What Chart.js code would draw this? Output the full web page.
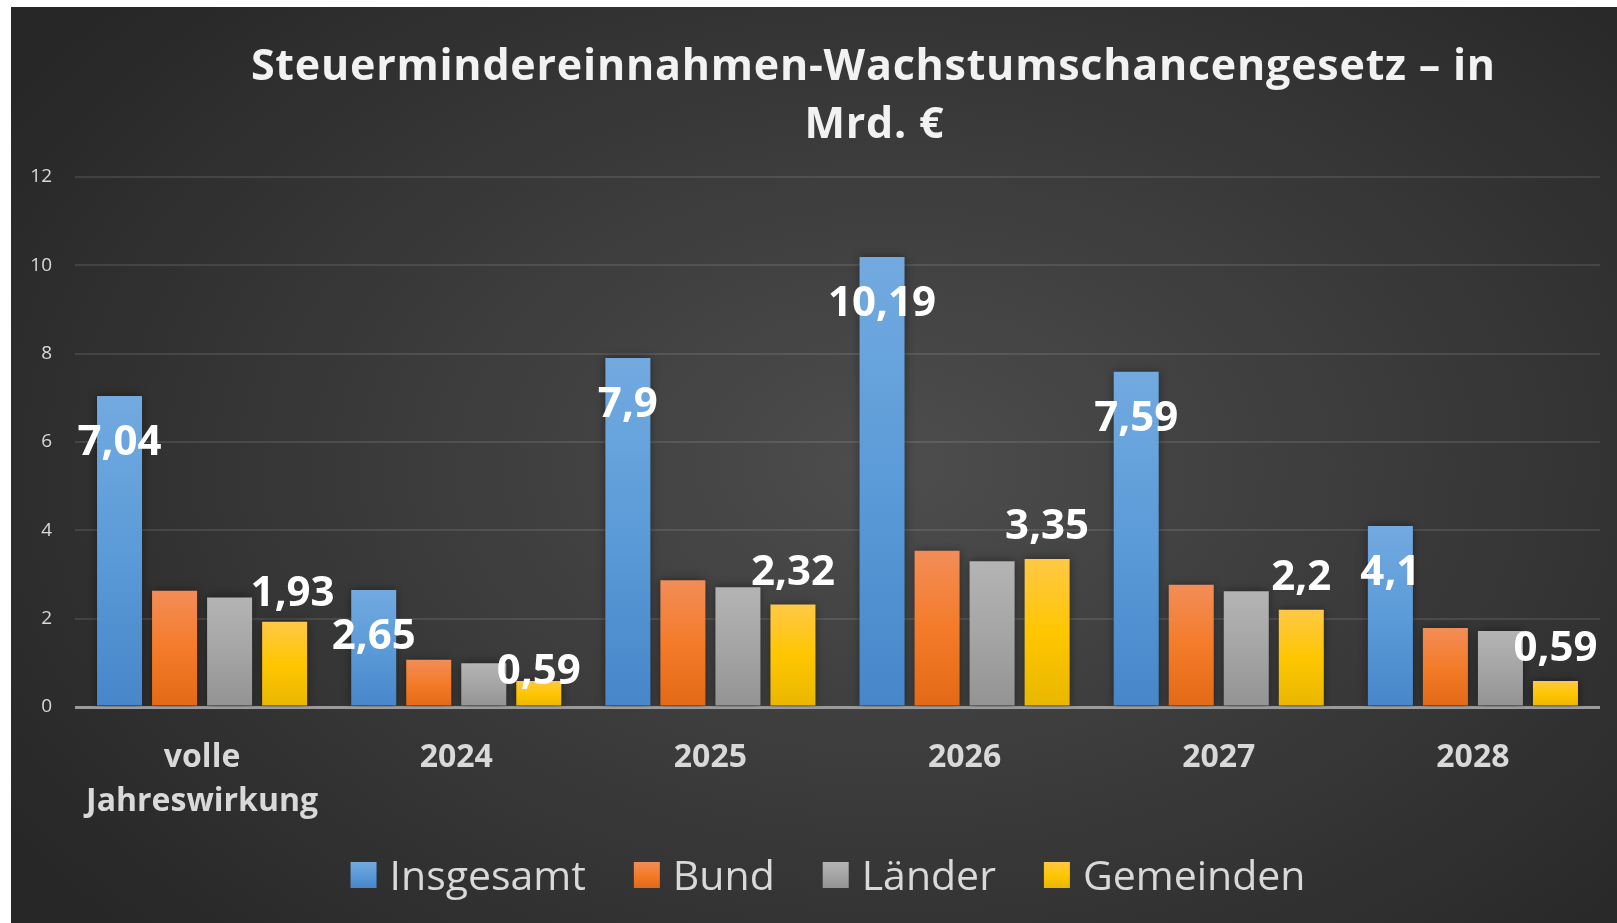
<!DOCTYPE html>
<html lang="de">
<head>
<meta charset="utf-8">
<title>Steuermindereinnahmen-Wachstumschancengesetz</title>
<script src="https://cdn.jsdelivr.net/npm/chart.js@4.4.1/dist/chart.umd.min.js"></script>
<style>
  html, body { margin: 0; padding: 0; background: #fff; }
  #wrap {
    position: absolute; left: 11px; top: 7px; width: 1606px; height: 916px;
    background: radial-gradient(ellipse 65% 75% at 55% 50%, #4d4d4d 0%, #272727 100%);
  }
</style>
</head>
<body>
<div id="wrap"><canvas id="chart" width="1606" height="916"></canvas></div>
<script>
const titleLines = ['Steuermindereinnahmen-Wachstumschancengesetz – in', 'Mrd. €'];
const categories = [['volle', 'Jahreswirkung'], '2024', '2025', '2026', '2027', '2028'];
const seriesNames = ['Insgesamt', 'Bund', 'Länder', 'Gemeinden'];
const insgesamt = [7.04, 2.65, 7.9, 10.19, 7.59, 4.1];
const bund = [2.63, 1.07, 2.87, 3.54, 2.77, 1.79];
const laender = [2.48, 0.99, 2.71, 3.30, 2.62, 1.72];
const gemeinden = [1.93, 0.59, 2.32, 3.35, 2.2, 0.59];
const yTicks = [0, 2, 4, 6, 8, 10, 12];

// top / middle / bottom colours of each bar
const seriesStops = [
  ['#72aae0', '#5b9bd8', '#4786c9'],
  ['#f28d58', '#f47b29', '#e26915'],
  ['#b4b4b4', '#a5a5a5', '#939393'],
  ['#ffc846', '#ffc600', '#e8b700']
];

const FONT = '"Open Sans", "DejaVu Sans", sans-serif';

const barFill = (stops) => (ctx) => {
  const chart = ctx.chart;
  const y = chart.scales.y;
  if (!y || ctx.raw == null) return stops[1];
  const top = y.getPixelForValue(ctx.raw);
  const bottom = y.getPixelForValue(0);
  if (!isFinite(top) || !isFinite(bottom) || top === bottom) return stops[1];
  const g = chart.ctx.createLinearGradient(0, top, 0, bottom);
  g.addColorStop(0, stops[0]);
  g.addColorStop(0.5, stops[1]);
  g.addColorStop(1, stops[2]);
  return g;
};

// which series get value labels, and where (relative to the bar top)
const labelled = { 0: 44, 3: -35 };
const labelNudge = { '3-0': [8, 4], '3-1': [0, 23] };

const shadowPlugin = {
  id: 'barShadow',
  beforeDatasetsDraw(chart) {
    const ctx = chart.ctx;
    ctx.save();
    ctx.shadowColor = 'rgba(0,0,0,0.45)';
    ctx.shadowBlur = 9;
  },
  afterDatasetsDraw(chart) {
    chart.ctx.restore();
  }
};

const valueLabels = {
  id: 'valueLabels',
  afterDatasetsDraw(chart) {
    const ctx = chart.ctx;
    ctx.save();
    ctx.font = 'bold 42px ' + FONT;
    ctx.fillStyle = '#ffffff';
    ctx.textAlign = 'center';
    ctx.textBaseline = 'alphabetic';
    Object.keys(labelled).forEach((di) => {
      const meta = chart.getDatasetMeta(+di);
      meta.data.forEach((bar, i) => {
        const v = chart.data.datasets[di].data[i];
        const nudge = labelNudge[di + '-' + i] || [0, 0];
        const txt = String(v).replace('.', ',');
        ctx.fillText(txt, bar.x + nudge[0], bar.y + labelled[di] + 15 + nudge[1]);
      });
    });
    ctx.restore();
  }
};

const titleAndLegend = {
  id: 'titleAndLegend',
  afterDraw(chart) {
    const ctx = chart.ctx;
    ctx.save();
    // title
    ctx.fillStyle = '#f2f2f2';
    ctx.font = 'bold 43px ' + FONT;
    ctx.textAlign = 'center';
    ctx.textBaseline = 'alphabetic';
    const w0 = ctx.measureText(titleLines[0]).width;
    const spacing = (1245 - w0) / titleLines[0].length;
    ctx.letterSpacing = spacing + 'px';
    ctx.fillText(titleLines[0], 862 + spacing / 2, 73);
    ctx.fillText(titleLines[1], 863 + spacing / 2, 131);
    ctx.letterSpacing = '0px';

    // legend
    ctx.font = '41px ' + FONT;
    ctx.textAlign = 'left';
    const box = 26, gapBox = 13, gapItem = 48;
    const widths = seriesNames.map((n) => ctx.measureText(n).width);
    const total = widths.reduce((a, w) => a + box + gapBox + w, 0) + gapItem * (seriesNames.length - 1);
    let x = 817 - total / 2;
    const boxTop = 855;
    seriesNames.forEach((name, i) => {
      const g = ctx.createLinearGradient(0, boxTop, 0, boxTop + box);
      g.addColorStop(0, seriesStops[i][0]);
      g.addColorStop(0.5, seriesStops[i][1]);
      g.addColorStop(1, seriesStops[i][2]);
      ctx.fillStyle = g;
      ctx.fillRect(x, boxTop, box, box);
      x += box + gapBox;
      ctx.fillStyle = '#d9d9d9';
      ctx.fillText(name, x, 883);
      x += widths[i] + gapItem;
    });
    ctx.restore();
  }
};

const seriesData = [insgesamt, bund, laender, gemeinden];

new Chart(document.getElementById('chart'), {
  type: 'bar',
  data: {
    labels: categories,
    datasets: seriesNames.map((name, i) => ({
      label: name,
      data: seriesData[i],
      backgroundColor: barFill(seriesStops[i]),
      borderWidth: 0,
      categoryPercentage: 0.866,
      barPercentage: 0.818
    }))
  },
  options: {
    responsive: false,
    animation: false,
    devicePixelRatio: 1,
    layout: { padding: { top: 170, right: 17, bottom: 66, left: 0 } },
    plugins: {
      legend: { display: false },
      title: { display: false },
      tooltip: { enabled: false }
    },
    scales: {
      x: {
        grid: { display: false, drawTicks: false },
        border: { display: false },
        ticks: {
          color: '#d9d9d9',
          font: { family: FONT, size: 32, weight: 'bold', lineHeight: 1.4 },
          padding: 28,
          maxRotation: 0,
          autoSkip: false
        },
        afterFit: (s) => { s.height = 150; }
      },
      y: {
        min: 0,
        max: 12,
        afterBuildTicks: (s) => { s.ticks = yTicks.map((v) => ({ value: v })); },
        grid: {
          drawTicks: false,
          color: (c) => (c.tick && c.tick.value === 0 ? '#9b9b9b' : 'rgba(255,255,255,0.10)'),
          lineWidth: (c) => (c.tick && c.tick.value === 0 ? 3 : 2)
        },
        border: { display: false },
        ticks: {
          color: '#d9d9d9',
          font: { family: FONT, size: 19 },
          padding: 23
        },
        afterFit: (s) => { s.width = 64; }
      }
    }
  },
  plugins: [shadowPlugin, valueLabels, titleAndLegend]
});
</script>
</body>
</html>
